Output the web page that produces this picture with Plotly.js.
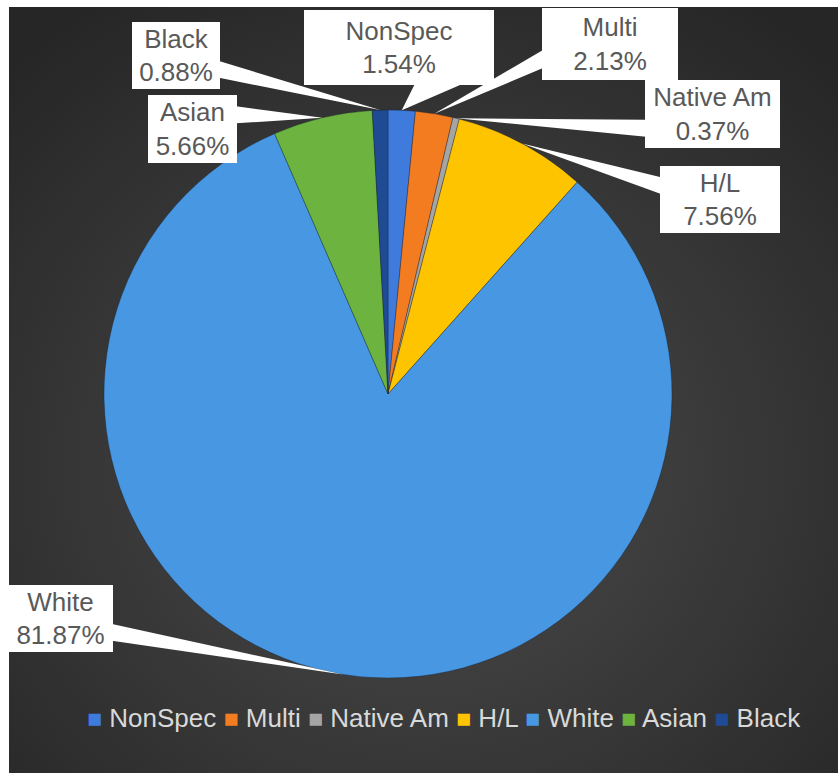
<!DOCTYPE html>
<html><head><meta charset="utf-8">
<script src="https://cdn.plot.ly/plotly-3.0.1.min.js"></script>
<style>
html,body{margin:0;padding:0;background:#ffffff;}
#wrap{position:relative;width:838px;height:773px;overflow:hidden;}
#bg{position:absolute;left:9px;top:7px;width:829px;height:766px;
 background:radial-gradient(ellipse 72% 72% at 50% 60%, #4b4b4b 0%, #3b3b3b 45%, #262626 100%);}
#chart{position:absolute;left:0;top:0;width:838px;height:773px;}
</style></head><body>
<div id="wrap"><div id="bg"></div><div id="chart"></div></div>
<script>
// ---- data ----
const categories = ['NonSpec', 'Multi', 'Native Am', 'H/L', 'White', 'Asian', 'Black'];
const values = [1.54, 2.13, 0.37, 7.56, 81.87, 5.66, 0.88];
const colors = ['#3f7bdc', '#f47c20', '#a5a5a5', '#ffc400', '#4797e2', '#6cb33f', '#1f4a94'];
const pctLabels = ['1.54%', '2.13%', '0.37%', '7.56%', '81.87%', '5.66%', '0.88%'];

// ---- layout constants (pixels) ----
const W = 838, H = 773;
const CX = 388, CY = 394, R = 284;
// label box: [centerX, centerY, width, height]
const boxes = [
  [399, 47.5, 190, 75],
  [610, 44, 136, 72],
  [712.5, 114, 135, 68],
  [720, 199.5, 120, 67],
  [60.5, 618.5, 105, 67],
  [192.5, 129, 89, 68],
  [176, 55.5, 88, 67]
];

const px = x => x / W;
const py = y => 1 - y / H;

const total = values.reduce((a, b) => a + b, 0);
let cum = 0;
const shapes = [];
const annotations = [];
values.forEach((v, i) => {
  const mid = (cum + v / 2) / total;
  cum += v;
  const ang = mid * 2 * Math.PI; // clockwise from top
  const tx = CX + R * Math.sin(ang);
  const ty = CY - R * Math.cos(ang);
  const [bx, by, bw, bh] = boxes[i];
  const l = bx - bw / 2, t = by - bh / 2;
  const dx = tx - bx, dy = ty - by;
  const dq = dx * bh / bw;
  let p1, p2;
  if (Math.abs(dy) > Math.abs(dq)) {
    const g1 = dx > 0 ? 7 : 2, g2 = dx > 0 ? 10 : 5;
    const ye = dy > 0 ? t + bh - 1 : t + 1;
    p1 = [l + bw * g1 / 12, ye]; p2 = [l + bw * g2 / 12, ye];
  } else {
    const g1 = dy > 0 ? 7 : 2, g2 = dy > 0 ? 10 : 5;
    const xe = dx > 0 ? l + bw - 1 : l + 1;
    p1 = [xe, t + bh * g1 / 12]; p2 = [xe, t + bh * g2 / 12];
  }
  shapes.push({
    type: 'path', xref: 'paper', yref: 'paper', layer: 'above',
    path: `M ${px(p1[0])},${py(p1[1])} L ${px(tx)},${py(ty)} L ${px(p2[0])},${py(p2[1])} Z`,
    fillcolor: '#ffffff', line: {width: 0}
  });
  annotations.push({
    xref: 'paper', yref: 'paper', x: px(bx), y: py(by),
    xanchor: 'center', yanchor: 'middle', showarrow: false,
    width: bw, height: bh, bgcolor: '#ffffff', borderpad: 0, borderwidth: 0,
    align: 'center', valign: 'middle',
    text: categories[i] + '<br>' + pctLabels[i],
    font: {family: 'Liberation Sans, Arial, sans-serif', size: 26, color: '#595959'}
  });
});

// custom legend line
const legendText = categories.map((c, i) =>
  `<span style="color:${colors[i]};font-size:25px">■</span> ${c}`).join(' ');
annotations.push({
  xref: 'paper', yref: 'paper', x: px(444), y: py(718),
  xanchor: 'center', yanchor: 'middle', showarrow: false,
  text: legendText,
  font: {family: 'Liberation Sans, Arial, sans-serif', size: 26, color: '#d9d9d9'}
});

const trace = {
  type: 'pie',
  labels: categories,
  values: values,
  sort: false,
  direction: 'clockwise',
  rotation: 0,
  textinfo: 'none',
  hoverinfo: 'label+percent',
  marker: {colors: colors, line: {color: 'rgba(20,30,50,0.35)', width: 1}},
  domain: {x: [px(CX - R), px(CX + R)], y: [py(CY + R), py(CY - R)]},
  showlegend: false
};

const layout = {
  width: W, height: H,
  margin: {l: 0, r: 0, t: 0, b: 0},
  paper_bgcolor: 'rgba(0,0,0,0)',
  plot_bgcolor: 'rgba(0,0,0,0)',
  showlegend: false,
  shapes: shapes,
  annotations: annotations
};

Plotly.newPlot('chart', [trace], layout, {displayModeBar: false, staticPlot: true});
</script>
</body></html>
